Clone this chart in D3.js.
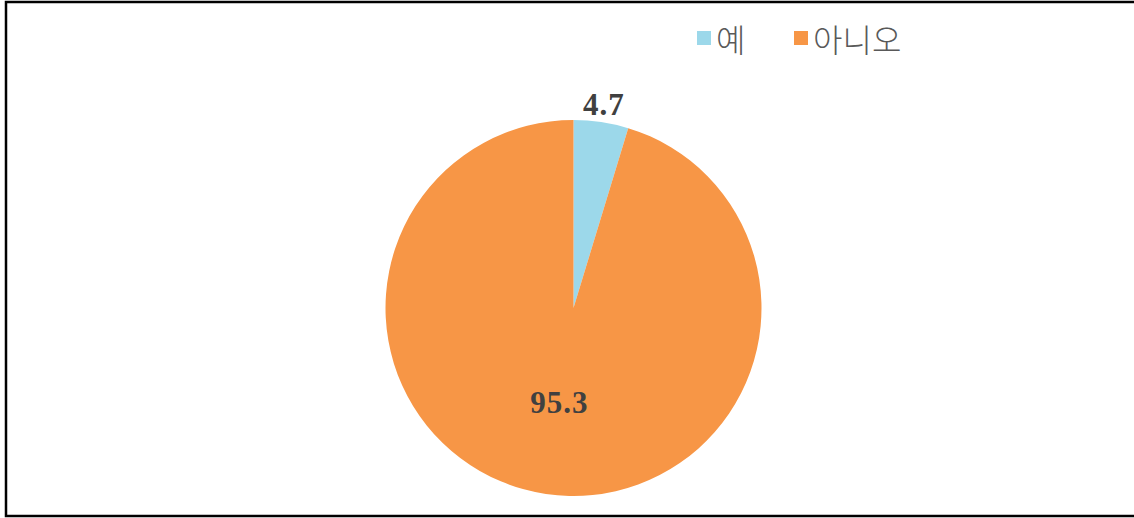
<!DOCTYPE html>
<html>
<head>
<meta charset="utf-8">
<script src="https://cdn.jsdelivr.net/npm/d3@7/dist/d3.min.js"></script>
<style>
  html, body { margin: 0; padding: 0; background: #fff; }
  svg { display: block; }
</style>
</head>
<body>
<svg id="chart" width="1134" height="518"></svg>
<script>
// Survey response shares (%)
const categories = ["예", "아니오"];
const values = [4.7, 95.3];
const colors = ["#9CD8EA", "#F79646"];

const svg = d3.select("#chart");
const W = 1134, H = 518;

// Frame
svg.append("rect")
  .attr("x", 6).attr("y", 2)
  .attr("width", W + 10).attr("height", 514)
  .attr("fill", "#fff").attr("stroke", "#000").attr("stroke-width", 2.5);

const cx = 573.5, cy = 308, r = 188;

const pie = d3.pie().sort(null).value(d => d.value);
const arc = d3.arc().innerRadius(0).outerRadius(r);

const data = categories.map((c, i) => ({ cat: c, value: values[i], color: colors[i] }));
const arcs = pie(data);

const g = svg.append("g").attr("transform", `translate(${cx},${cy})`);
g.selectAll("path")
  .data(arcs)
  .join("path")
  .attr("d", arc)
  .attr("fill", d => d.data.color);

// Value labels
const labelFont = "'Liberation Serif', 'DejaVu Serif', serif";
const labelPos = [
  d => { const a = (d.startAngle + d.endAngle) / 2; return [Math.sin(a) * (r + 18), -Math.cos(a) * (r + 18)]; },
  d => { const a = (d.startAngle + d.endAngle) / 2; return [Math.sin(a) * r * 0.51, -Math.cos(a) * r * 0.51]; }
];
g.selectAll("text.val")
  .data(arcs)
  .join("text")
  .attr("class", "val")
  .attr("x", (d, i) => labelPos[i](d)[0])
  .attr("y", (d, i) => labelPos[i](d)[1])
  .attr("text-anchor", "middle")
  .attr("dominant-baseline", "central")
  .attr("font-family", labelFont)
  .attr("font-weight", "bold")
  .attr("font-size", 31)
  .attr("letter-spacing", 1)
  .attr("fill", "#404040")
  .text(d => d.data.value.toFixed(1));

// Legend
const legend = svg.append("g").attr("transform", "translate(697,38)");
const legendX = [0, 97];
const items = legend.selectAll("g")
  .data(data)
  .join("g")
  .attr("transform", (d, i) => `translate(${legendX[i]},0)`);
items.append("rect")
  .attr("x", 0).attr("y", -7)
  .attr("width", 14).attr("height", 14)
  .attr("fill", d => d.color);
items.append("text")
  .attr("x", 19).attr("y", 0)
  .attr("dominant-baseline", "central")
  .attr("font-family", "'Noto Sans CJK KR', sans-serif")
  .attr("font-size", 32)
  .attr("font-weight", 300)
  .attr("fill", "#595959")
  .text(d => d.cat);
</script>
</body>
</html>
